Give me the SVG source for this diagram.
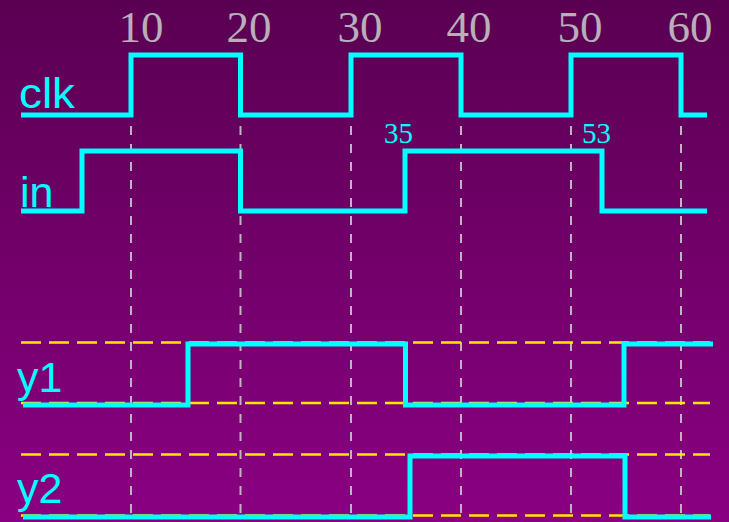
<svg xmlns="http://www.w3.org/2000/svg" width="729" height="522" viewBox="0 0 729 522">
  <defs>
    <linearGradient id="bg" x1="0" y1="0" x2="0" y2="1">
      <stop offset="0" stop-color="#5a0052"/>
      <stop offset="1" stop-color="#8a0082"/>
    </linearGradient>
  </defs>
  <style>
    .grid { stroke: #c0b4c0; stroke-width: 2; stroke-dasharray: 9 9; fill: none; }
    .rail { stroke: #ffe800; stroke-width: 2.5; stroke-dasharray: 20 8; fill: none; }
    .wave { stroke: #00ffff; stroke-width: 5; fill: none; stroke-linejoin: miter; stroke-linecap: butt; }
    .tick { font-family: "Liberation Serif", "Times New Roman", serif; font-size: 45px; fill: #b8b0b8; text-anchor: middle; }
    .name { font-family: "Liberation Sans", Arial, sans-serif; font-size: 43px; fill: #00ffff; }
    .note { font-family: "Liberation Serif", "Times New Roman", serif; font-size: 29px; fill: #00ffff; }
  </style>

  <rect x="0" y="0" width="729" height="522" fill="url(#bg)"/>

  <!-- time axis labels -->
  <g id="axis">
    <text class="tick" x="141" y="42">10</text>
    <text class="tick" x="249" y="42">20</text>
    <text class="tick" x="360" y="42">30</text>
    <text class="tick" x="469" y="42">40</text>
    <text class="tick" x="580" y="42">50</text>
    <text class="tick" x="690" y="42">60</text>
  </g>

  <!-- vertical guides at each clock edge -->
  <g id="guides">
    <line class="grid" x1="131" y1="126" x2="131" y2="522"/>
    <line class="grid" x1="240.5" y1="126" x2="240.5" y2="522"/>
    <line class="grid" x1="351" y1="126" x2="351" y2="522"/>
    <line class="grid" x1="461" y1="126" x2="461" y2="522"/>
    <line class="grid" x1="571" y1="126" x2="571" y2="522"/>
    <line class="grid" x1="681" y1="126" x2="681" y2="522"/>
  </g>

  <!-- logic level rails for outputs -->
  <g id="rails">
    <line class="rail" x1="21" y1="342.5" x2="710" y2="342.5"/>
    <line class="rail" x1="21" y1="403" x2="710" y2="403"/>
    <line class="rail" x1="21" y1="454.5" x2="710" y2="454.5"/>
    <line class="rail" x1="21" y1="515.5" x2="710" y2="515.5"/>
  </g>

  <g id="clk">
    <text class="name" x="19" y="108" textLength="56" lengthAdjust="spacingAndGlyphs">clk</text>
    <polyline class="wave" points="21,115 131,115 131,55 240.5,55 240.5,115 351,115 351,55 461,55 461,115 571,115 571,55 681,55 681,115 707,115"/>
  </g>

  <g id="in">
    <text class="name" x="20" y="207">in</text>
    <polyline class="wave" points="21,211 82,211 82,151 240.5,151 240.5,211 405,211 405,151 602,151 602,211 707,211"/>
    <text class="note" x="384" y="143">35</text>
    <text class="note" x="582" y="143">53</text>
  </g>

  <g id="y1">
    <text class="name" x="17" y="392">y1</text>
    <polyline class="wave" points="23,405 188,405 188,344 405.5,344 405.5,405 624,405 624,344 713,344"/>
  </g>

  <g id="y2">
    <text class="name" x="17" y="503">y2</text>
    <polyline class="wave" points="23,517 410,517 410,456 625,456 625,517 711,517"/>
  </g>
</svg>
